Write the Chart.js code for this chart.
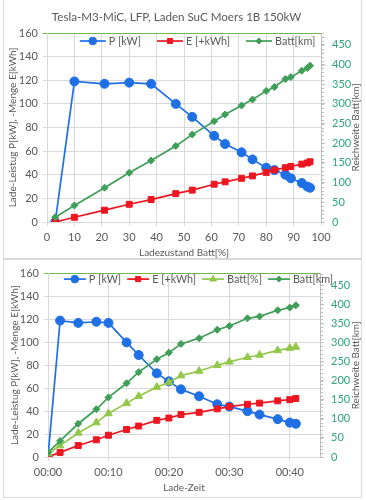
<!DOCTYPE html>
<html>
<head>
<meta charset="utf-8">
<script src="https://cdn.jsdelivr.net/npm/chart.js@4.4.1/dist/chart.umd.min.js"></script>
<style>
  html, body { margin: 0; padding: 0; background: #fff; }
  body { width: 366px; height: 500px; position: relative; overflow: hidden; }
  .box { position: absolute; left: 3px; width: 357px; border: 1px solid #d9d9d9; background: #fff; }
  #box1 { top: -1px; height: 258px; }
  #box2 { top: 259px; height: 237px; }
  canvas { display: block; }
</style>
</head>
<body>
<div class="box" id="box1"><canvas id="socChart" width="357" height="258"></canvas></div>
<div class="box" id="box2"><canvas id="timeChart" width="357" height="237"></canvas></div>

<script>
// Werte aus dem Ladevorgang
const chartTitle = 'Tesla-M3-MiC, LFP, Laden SuC Moers 1B 150kW';
const socPct    = [3, 10, 21, 30, 38, 47, 53, 61, 65, 71, 75, 80, 83, 87, 89, 93, 95, 96];
const chargeMin = [0, 2, 5, 8, 10, 13, 15, 18, 20, 22, 25, 28, 30, 33, 35, 38, 40, 41];
const powerKW   = [0, 119, 117, 118, 117, 100, 89, 73, 66, 59, 53, 46, 44, 40, 37, 33, 30, 29];
const energyKWh = [0, 4, 10, 15, 19, 24, 27, 32, 34, 37, 39, 42, 44, 46, 47, 49, 50, 51];
const rangeKm   = [12, 42, 87, 125, 156, 193, 222, 256, 273, 296, 311, 333, 343, 363, 368, 384, 391, 397];

const seriesNames = ['P [kW]', 'E [+kWh]', 'Batt[%]', 'Batt[km]'];
const axisTitles = {
  soc: 'Ladezustand Batt[%]',
  time: 'Lade-Zeit',
  left: 'Lade-Leistug P[kW], -Menge E[kWh]',
  right: 'Reichweite Batt[km]'
};

const FONT = 'Lato, "Open Sans", sans-serif';
const GRAY = '#595959';
const GRID = '#D9D9D9';
const AXIS = '#BFBFBF';
const TOPLINE = '#70B849';
const TEAL = '#2EA67A';
const C_P = '#1F6FE5';
const C_E = '#EE1620';
const C_PCT = '#92C84A';
const C_KM = '#3F9F58';

const pts = (xs, ys) => xs.map((x, i) => ({ x: x, y: ys[i] }));

function series(label, xs, ys, color, style, r, axis, order) {
  return {
    label: label,
    data: pts(xs, ys),
    borderColor: color,
    backgroundColor: color,
    borderWidth: 1.7,
    pointStyle: style,
    pointRadius: r,
    pointHoverRadius: r,
    pointBorderWidth: 1,
    yAxisID: axis,
    order: order,
    tension: 0
  };
}

// Legende (Linie + Marker wie in Excel), rechter Achsentitel, Nebenstriche
const excelDecor = {
  id: 'excelDecor',
  afterLayout(chart, args, opts) {
    if (chart.titleBlock && opts.titleDx) {
      chart.titleBlock.left += opts.titleDx;
      chart.titleBlock.right += opts.titleDx;
    }
  },
  afterDraw(chart, args, opts) {
    const ctx = chart.ctx;
    const area = chart.chartArea;
    ctx.save();

    // Nebenstriche rechte Achse
    const y1 = chart.scales.y1;
    ctx.strokeStyle = AXIS;
    ctx.lineWidth = 1;
    ctx.beginPath();
    for (let v = 0; v <= y1.max; v += 10) {
      const py = Math.round(y1.getPixelForValue(v)) + 0.5;
      ctx.moveTo(area.right, py);
      ctx.lineTo(area.right + 3, py);
    }
    ctx.stroke();

    // rechter Achsentitel (von unten nach oben)
    ctx.fillStyle = GRAY;
    ctx.font = '10px ' + FONT;
    ctx.textAlign = 'center';
    ctx.textBaseline = 'middle';
    ctx.translate(opts.rightTitleX, (area.top + area.bottom) / 2);
    ctx.rotate(-Math.PI / 2);
    ctx.fillText(axisTitles.right, 0, 0);
    ctx.setTransform(1, 0, 0, 1, 0, 0);

    // Legende
    ctx.font = '10.8px ' + FONT;
    ctx.textAlign = 'left';
    const items = chart.data.datasets.map(ds => ({
      ds: ds,
      w: opts.iconW + 3 + ctx.measureText(ds.label).width
    }));
    const total = items.reduce((s, it) => s + it.w, 0) + opts.space * (items.length - 1);
    let x = (area.left + area.right) / 2 + opts.dx - total / 2;
    const y = area.top + opts.dy;
    items.forEach(it => {
      const ds = it.ds;
      ctx.strokeStyle = ds.borderColor;
      ctx.lineWidth = ds.borderWidth;
      ctx.beginPath();
      ctx.moveTo(x, y);
      ctx.lineTo(x + opts.iconW, y);
      ctx.stroke();
      ctx.fillStyle = ds.backgroundColor;
      ctx.lineWidth = 1;
      Chart.helpers.drawPoint(ctx, { pointStyle: ds.pointStyle, radius: ds.pointRadius * 0.85, borderWidth: 1, rotation: 0 }, x + opts.iconW / 2, y);
      ctx.fillStyle = GRAY;
      ctx.fillText(ds.label, x + opts.iconW + 3, y + 0.5);
      x += it.w + opts.space;
    });
    ctx.restore();
  }
};

function makeOptions(cfg) {
  return {
    responsive: false,
    animation: false,
    events: [],
    layout: { padding: { top: cfg.padTop, left: 0, right: 0, bottom: 0 } },
    plugins: {
      legend: { display: false },
      tooltip: { enabled: false },
      title: cfg.title ? {
        display: true,
        text: cfg.title,
        color: GRAY,
        font: { family: FONT, size: 11.6, weight: 'normal' },
        padding: { top: 10, bottom: 9.1 }
      } : { display: false },
      excelDecor: {
        titleDx: cfg.titleDx || 0,
        rightTitleX: cfg.rightTitleX,
        dx: cfg.legendDx, dy: cfg.legendDy,
        iconW: cfg.iconW, space: cfg.legendSpace
      }
    },
    scales: {
      x: {
        type: 'linear',
        min: 0,
        max: cfg.xMax,
        ticks: {
          stepSize: 10, includeBounds: false, autoSkip: false, maxRotation: 0,
          color: GRAY, font: { family: FONT, size: 11 }, padding: 5,
          callback: cfg.xFmt
        },
        grid: { color: GRID, tickLength: 4 },
        border: { color: GRID },
        title: {
          display: true, text: cfg.xTitle, color: GRAY,
          font: { family: FONT, size: 10 }, padding: { top: 0, bottom: cfg.xTitlePad }
        },
        afterFit: s => { s.height = cfg.xH; }
      },
      y: {
        position: 'left',
        min: 0,
        max: 160,
        ticks: { stepSize: 20, color: GRAY, font: { family: FONT, size: 11 }, padding: 5 },
        grid: {
          color: c => (c.tick && c.tick.value === 160 ? TOPLINE : GRID),
          tickLength: 4
        },
        border: { color: GRID },
        title: {
          display: true, text: axisTitles.left, color: GRAY,
          font: { family: FONT, size: 10 }, padding: { top: cfg.yTitlePad, bottom: 0 }
        },
        afterFit: s => { s.width = cfg.yW; }
      },
      y1: {
        position: 'right',
        min: 0,
        max: 480,
        ticks: { stepSize: 50, includeBounds: false, color: TEAL, font: { family: FONT, size: 11 }, padding: 7 },
        grid: { drawOnChartArea: false, color: AXIS, tickLength: 4 },
        border: { color: AXIS },
        afterFit: s => { s.width = cfg.y1W; }
      }
    }
  };
}

new Chart(document.getElementById('socChart'), {
  type: 'line',
  data: {
    datasets: [
      series(seriesNames[0], socPct, powerKW, C_P, 'circle', 4.5, 'y', 4),
      series(seriesNames[1], socPct, energyKWh, C_E, 'rect', 4.2, 'y', 3),
      series(seriesNames[3], socPct, rangeKm, C_KM, 'rectRot', 3.5, 'y1', 1)
    ]
  },
  options: makeOptions({
    title: chartTitle, titleDx: -6, padTop: 0,
    xMax: 100, xFmt: v => v, xTitle: axisTitles.soc, xTitlePad: -1, xH: 36,
    yW: 43, y1W: 40, yTitlePad: 3, rightTitleX: 352,
    legendDx: 13.5, legendDy: 8, iconW: 26, legendSpace: 16
  }),
  plugins: [excelDecor]
});

new Chart(document.getElementById('timeChart'), {
  type: 'line',
  data: {
    datasets: [
      series(seriesNames[0], chargeMin, powerKW, C_P, 'circle', 4.5, 'y', 4),
      series(seriesNames[1], chargeMin, energyKWh, C_E, 'rect', 4.2, 'y', 3),
      series(seriesNames[2], chargeMin, socPct, C_PCT, 'triangle', 4.5, 'y', 2),
      series(seriesNames[3], chargeMin, rangeKm, C_KM, 'rectRot', 3.5, 'y1', 1)
    ]
  },
  options: makeOptions({
    padTop: 10,
    xMax: 45, xFmt: v => '00:' + String(v).padStart(2, '0'), xTitle: axisTitles.time, xTitlePad: 3, xH: 40,
    yW: 44, y1W: 41, yTitlePad: 5, rightTitleX: 352,
    legendDx: 14.5, legendDy: 5.5, iconW: 22, legendSpace: 6
  }),
  plugins: [excelDecor]
});
</script>
</body>
</html>
